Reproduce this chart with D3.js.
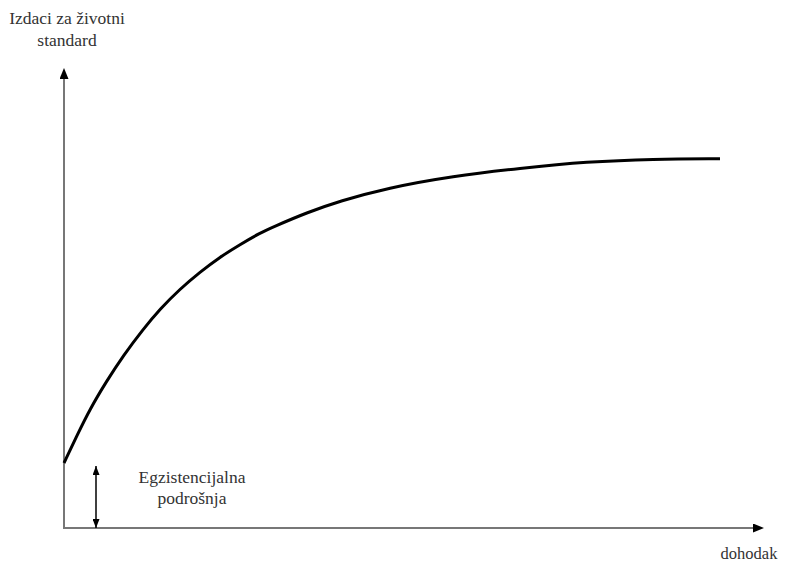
<!DOCTYPE html>
<html>
<head>
<meta charset="utf-8">
<script src="https://cdn.jsdelivr.net/npm/d3@7"></script>
<style>
  html, body { margin: 0; padding: 0; background: #fff; }
  svg { display: block; }
</style>
</head>
<body>
<svg id="chart" width="787" height="565"></svg>
<script>
// Income (x) and living-standard expenditure (y)
const income =      [0, 13, 26, 42.7, 59.3, 79.3, 96, 116, 136, 156, 176, 196, 209, 243, 276, 323, 389, 456, 523, 589, 656];
const expenditure = [65, 92.5, 119, 147, 172.5, 199, 219, 239, 256, 271, 283.5, 295, 301, 315.5, 327, 340, 352, 359.7, 366.3, 369, 369.3];
const subsistence = 64;        // Egzistencijalna podrošnja
const subsistenceX = 32;       // where the double arrow is placed
const yLabel = ["Izdaci za životni", "standard"];
const xLabel = "dohodak";
const noteLabel = ["Egzistencijalna", "podrošnja"];

const FONT = "'Liberation Serif', 'DejaVu Serif', 'Times New Roman', serif";
const svg = d3.select("#chart");
const x = d3.scaleLinear().domain([0, 700]).range([64, 764]);
const y = d3.scaleLinear().domain([0, 460]).range([528, 68]);

const defs = svg.append("defs");
function marker(id, w, h, orient) {
  defs.append("marker")
    .attr("id", id)
    .attr("viewBox", `0 0 ${w} ${h}`)
    .attr("refX", w).attr("refY", h / 2)
    .attr("markerWidth", w).attr("markerHeight", h)
    .attr("markerUnits", "userSpaceOnUse")
    .attr("orient", orient)
    .append("path")
    .attr("d", `M0,0L${w},${h / 2}L0,${h}Z`)
    .attr("fill", "#000");
}
marker("axisArrow", 11, 9, "auto");
marker("smallArrow", 9, 7, "auto-start-reverse");

// Axes (no ticks) via d3 axes
const xAxis = svg.append("g")
  .attr("transform", `translate(0,${y(0)})`)
  .call(d3.axisBottom(x).tickValues([]).tickSizeOuter(0));
const yAxis = svg.append("g")
  .attr("transform", `translate(${x(0)},0)`)
  .call(d3.axisLeft(y).tickValues([]).tickSizeOuter(0));
[xAxis, yAxis].forEach(g => g.select(".domain")
  .attr("stroke", "#777").attr("stroke-width", 2));
xAxis.select(".domain").attr("d", `M${x(0) - 1},0H${x(700) - 10}`);
yAxis.select(".domain").attr("d", `M0,${y(0) + 1}V${y(460) + 10}`);
// arrowheads
svg.append("line")
  .attr("x1", x(690)).attr("x2", x(700)).attr("y1", y(0)).attr("y2", y(0))
  .attr("stroke", "none").attr("marker-end", "url(#axisArrow)");
svg.append("line")
  .attr("x1", x(0)).attr("x2", x(0)).attr("y1", y(450)).attr("y2", y(460))
  .attr("stroke", "none").attr("marker-end", "url(#axisArrow)");

// Curve
const line = d3.line()
  .x((d, i) => x(income[i]))
  .y(d => y(d))
  .curve(d3.curveBasis);
svg.append("path")
  .datum(expenditure)
  .attr("d", line)
  .attr("fill", "none")
  .attr("stroke", "#000")
  .attr("stroke-width", 3)
  .attr("stroke-linecap", "butt");

// Subsistence double arrow
svg.append("line")
  .attr("x1", x(subsistenceX)).attr("x2", x(subsistenceX))
  .attr("y1", y(0)).attr("y2", y(subsistence - 2))
  .attr("stroke", "#000").attr("stroke-width", 1.5)
  .attr("marker-start", "url(#smallArrow)")
  .attr("marker-end", "url(#smallArrow)");

// Labels
const yl = svg.append("text").attr("text-anchor", "middle").attr("font-size", 17.5)
  .attr("font-family", FONT).attr("fill", "#333");
yLabel.forEach((t, i) => yl.append("tspan").attr("x", 67).attr("y", 24 + i * 22).text(t));

const nl = svg.append("text").attr("text-anchor", "middle").attr("font-size", 17.5)
  .attr("font-family", FONT).attr("fill", "#333");
noteLabel.forEach((t, i) => nl.append("tspan").attr("x", 192).attr("y", 483 + i * 21).text(t));

svg.append("text")
  .attr("x", 749).attr("y", 559)
  .attr("text-anchor", "middle")
  .attr("font-size", 16.5)
  .attr("font-family", FONT).attr("fill", "#333")
  .text(xLabel);
</script>
</body>
</html>
